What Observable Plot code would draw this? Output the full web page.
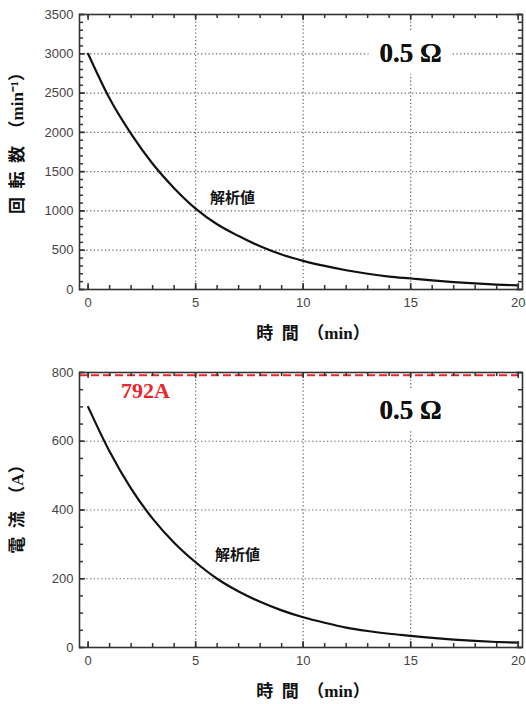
<!DOCTYPE html>
<html><head><meta charset="utf-8">
<script src="https://cdn.jsdelivr.net/npm/d3@7"></script>
<script src="https://cdn.jsdelivr.net/npm/@observablehq/plot@0.6"></script>
<style>
body{margin:0;background:#fff;width:526px;height:704px;overflow:hidden}
#c svg{display:block}
</style></head><body><div id="c"></div>
<script>
// ---- data ----
const time = [0,1,2,3,4,5,6,7,8,9,10,11,12,13,14,15,16,17,18,19,20];
const rpm = [3000,2430,1980,1600,1290,1030,830,680,550,445,365,300,245,200,165,140,115,95,78,63,52];
const current = [700,570,462,375,305,248,200,163,133,108,88,72,58,48,40,34,28,23,19,16,14];
const xTicks = [0,5,10,15,20];
const rpmTicks = [0,500,1000,1500,2000,2500,3000,3500];
const currentTicks = [0,200,400,600,800];
const currentLimit = [792];
const resistanceLabel = "0.5 Ω";
const curveLabel = "解析値";
const limitLabel = "792A";
const xTitle = "時\u2002間\u2002（min）";
const rpmTitle = "回\u2002転\u2002数\u2002（min⁻¹）";
const currentTitle = "電\u2002流\u2002（A）";

const serif = "'Liberation Serif','Times New Roman','Noto Sans CJK JP',serif";
const sans = "'Liberation Sans',Arial,sans-serif";
const cjk = "'Noto Sans CJK JP',sans-serif";
const frameColor = "#333";
const grid = {stroke:"#666", strokeOpacity:1, strokeDasharray:"1.3,2.4", strokeWidth:1.2};
const W = 526, ML = 79, MR = 4;
const xDomain = [-0.4, 20.2];

function chart({values, yMax, yTicks, yMinorStep, height, marginTop, marginBottom, yTitle, yTitleDy, extra, labelPos, resPos}) {
  const data = time.map((t, i) => ({t, v: values[i]}));
  const xMinor = d3.range(0, 21, 1);
  const yMinor = d3.range(0, yMax + 1, yMinorStep);
  const iw = W - ML - MR, ih = height - marginTop - marginBottom;
  // inward tick lengths (pixels) converted to data units
  const px = n => n * yMax / ih;
  const pxX = n => n * (xDomain[1] - xDomain[0]) / iw;
  const tk = {stroke: frameColor, strokeWidth: 1.5, strokeOpacity: 1};
  const ticks = [];
  for (const [arr, len] of [[xMinor, 4], [xTicks, 6]]) {
    ticks.push(Plot.ruleX(arr, {x: d => d, y1: 0, y2: px(len), ...tk}));
    ticks.push(Plot.ruleX(arr, {x: d => d, y1: yMax, y2: yMax - px(len), ...tk}));
  }
  for (const [arr, len] of [[yMinor, 4], [yTicks, 6]]) {
    ticks.push(Plot.ruleY(arr, {y: d => d, x1: xDomain[0], x2: xDomain[0] + pxX(len), ...tk}));
    ticks.push(Plot.ruleY(arr, {y: d => d, x1: xDomain[1], x2: xDomain[1] - pxX(len), ...tk}));
  }
  return Plot.plot({
    width: W, height, marginTop, marginBottom, marginLeft: ML, marginRight: MR,
    style: {background: "white", fontFamily: sans, overflow: "visible"},
    x: {domain: xDomain},
    y: {domain: [0, yMax]},
    marks: [
      Plot.gridX(xTicks.slice(1, -1), grid),
      Plot.gridY(yTicks.slice(1, -1), grid),
      ...extra,
      Plot.text([resistanceLabel], {x: resPos[0], y: resPos[1], text: d => d, fontFamily: serif, fontWeight: "bold", fontSize: 27, fill: "#111", stroke: "white", strokeWidth: 24, strokeLinejoin: "round"}),
      Plot.text([resistanceLabel], {x: resPos[0], y: resPos[1], text: d => d, fontFamily: serif, fontWeight: "bold", fontSize: 27, fill: "#111"}),
      Plot.line(data, {x: "t", y: "v", curve: "monotone-x", stroke: "#111", strokeWidth: 2.2}),
      Plot.text([curveLabel], {x: labelPos[0], y: labelPos[1], text: d => d, fontFamily: cjk, fontWeight: "bold", fontSize: 15, fill: "#111"}),
      ...ticks,
      // tick labels
      Plot.axisX(xTicks, {anchor: "bottom", tickSize: 0, tickPadding: 8, fontSize: 13, fill: "#444", label: null, tickFormat: d => String(d)}),
      Plot.axisY(yTicks, {anchor: "left", tickSize: 0, tickPadding: 6, fontSize: 13, fill: "#444", label: null, tickFormat: d => String(d)}),
      Plot.frame({stroke: frameColor, strokeWidth: 1.6}),
      // axis titles
      Plot.text([xTitle], {frameAnchor: "bottom", dy: 44, dx: 12, text: d => d, textAnchor: "middle", lineAnchor: "middle", fontFamily: serif, fontWeight: "bold", fontSize: 17, fill: "#111"}),
      Plot.text([yTitle], {frameAnchor: "left", dx: -62, dy: yTitleDy, rotate: -90, text: d => d, textAnchor: "middle", lineAnchor: "middle", fontFamily: serif, fontWeight: "bold", fontSize: 17, fill: "#111"})
    ]
  });
}

const rpmChart = chart({
  values: rpm, yMax: 3500, yTicks: rpmTicks, yMinorStep: 100,
  height: 352, marginTop: 14, marginBottom: 63,
  yTitle: rpmTitle, yTitleDy: -13, extra: [],
  labelPos: [6.72, 1160], resPos: [15, 3000]
});
const currentChart = chart({
  values: current, yMax: 800, yTicks: currentTicks, yMinorStep: 50,
  height: 352, marginTop: 20, marginBottom: 57,
  yTitle: currentTitle, yTitleDy: -5,
  extra: [
    Plot.ruleY(currentLimit, {stroke: "#e8262b", strokeWidth: 2, strokeDasharray: "8,4"}),
    Plot.text([limitLabel], {x: 2.67, y: 746, text: d => d, fontFamily: serif, fontWeight: "bold", fontSize: 22, fill: "#e8262b"})
  ],
  labelPos: [6.95, 268], resPos: [15, 690]
});
document.getElementById("c").append(rpmChart, currentChart);
</script></body></html>
